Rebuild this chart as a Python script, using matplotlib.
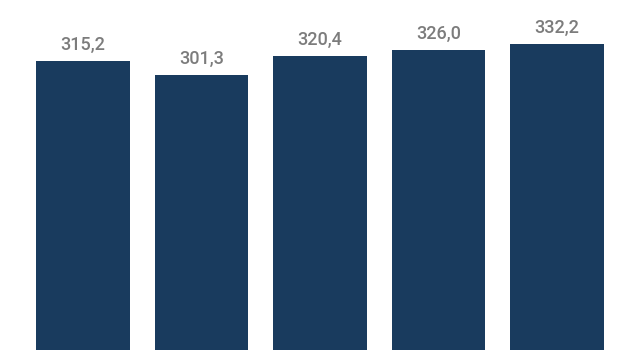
import matplotlib
matplotlib.use("Agg")
import matplotlib.pyplot as plt

categories = ["A", "B", "C", "D", "E"]
values = [315.2, 301.3, 320.4, 326.0, 332.2]
labels = ["315,2", "301,3", "320,4", "326,0", "332,2"]

fig = plt.figure(figsize=(6.2, 3.5), dpi=100)
ax = fig.add_axes([0, 0, 1, 1])

x = range(len(categories))
bars = ax.bar(x, values, width=0.79, color="#193b5e")

for b, lab in zip(bars, labels):
    ax.annotate(lab, (b.get_x() + b.get_width() / 2, b.get_height()),
                xytext=(0, 5), textcoords="offset points",
                ha="center", va="bottom", fontsize=13,
                family="Roboto", fontweight="medium", color="#7c7c7c")

ax.set_xlim(-0.70, 4.53)
ax.set_ylim(26.2, 376.2)
ax.axis("off")

fig.savefig("out.png", dpi=100)
